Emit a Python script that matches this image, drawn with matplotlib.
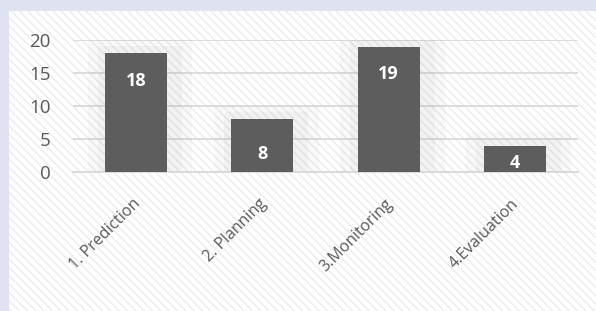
import matplotlib
matplotlib.use("Agg")
import matplotlib.pyplot as plt
from matplotlib.patches import Rectangle
from matplotlib.transforms import ScaledTranslation

categories = ["1. Prediction", "2. Planning", "3.Monitoring", "4.Evaluation"]
values = [18, 8, 19, 4]
yticks = [0, 5, 10, 15, 20]

plt.rcParams["font.family"] = ["Open Sans", "DejaVu Sans"]
plt.rcParams["hatch.color"] = "#ebebeb"
plt.rcParams["hatch.linewidth"] = 1.0

fig = plt.figure(figsize=(5.96, 3.11), dpi=100)
fig.patch.set_facecolor("#dfe2f0")

# hatched white panel
panel = Rectangle((9 / 596, 0), 1, 1 - 11 / 311, transform=fig.transFigure,
                  facecolor="white", edgecolor="#ebebeb", hatch="\\\\\\\\", lw=0, zorder=-5)
fig.patches.append(panel)

ax = fig.add_axes([73 / 596, (311 - 172) / 311, (578 - 73) / 596, 132 / 311])
ax.set_facecolor("none")
ax.set_zorder(2)

x = range(len(categories))
# soft glow behind bars
for i, v in zip(x, values):
    for pad, a in [(0.17, 0.06), (0.09, 0.07)]:
        ax.add_patch(Rectangle((i - 0.245 - pad + 0.03, 0), 0.49 + 2 * pad, v + pad * 12,
                               facecolor="#9a9a9a", alpha=a, lw=0, zorder=1))

bars = ax.bar(x, values, width=0.49, color="#5d5d5d", zorder=3)
for b, v in zip(bars, values):
    ypos = v - 4.2 if v > 10 else v * 0.35
    ax.text(b.get_x() + b.get_width() / 2, ypos, str(v), ha="center", va="center",
            color="white", fontsize=13, fontweight="bold", zorder=4)

ax.set_xlim(-0.5, 3.5)
ax.set_ylim(0, 20)
ax.set_yticks(yticks)
ax.yaxis.grid(True, color="#d9d9d9", lw=1.3)
ax.set_axisbelow(True)
for s in ax.spines.values():
    s.set_visible(False)
ax.spines["bottom"].set_visible(True)
ax.spines["bottom"].set_color("#d9d9d9")
ax.spines["bottom"].set_linewidth(1.3)
ax.tick_params(axis="both", length=0, colors="#595959", labelsize=13.5)
ax.tick_params(axis="y", pad=16)
ax.set_xticks(list(x))
ax.set_xticklabels(categories, rotation=45, ha="right", rotation_mode="anchor",
                   fontsize=11.5)
ax.tick_params(axis="x", pad=14)
shift = ScaledTranslation(-3 / 72, -3 / 72, fig.dpi_scale_trans)
for lbl in ax.get_xticklabels():
    lbl.set_transform(lbl.get_transform() + shift)

fig.savefig("out.png", dpi=100, facecolor=fig.get_facecolor())
